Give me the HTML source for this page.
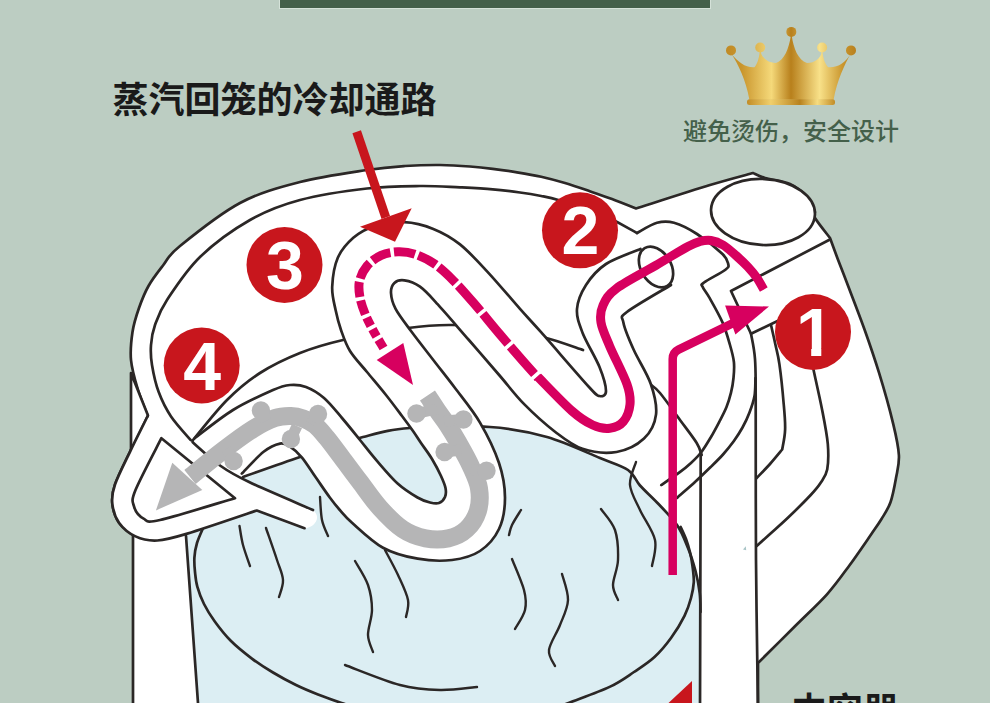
<!DOCTYPE html>
<html lang="zh-CN"><head><meta charset="utf-8"><title>蒸汽回笼的冷却通路</title>
<style>
html,body{margin:0;padding:0;background:#bccdc2;}
body{width:990px;height:703px;overflow:hidden;position:relative;font-family:"Liberation Sans","Noto Sans CJK SC",sans-serif;}
svg{position:absolute;left:0;top:0;display:block}
.bar{position:absolute;left:280px;top:0;width:430px;height:7.5px;background:#44604a;box-shadow:0 0 0 1px rgba(215,228,220,.9)}
.t1{position:absolute;left:112.500px;top:75px;font-size:36px;line-height:52px;font-weight:700;color:#1a1a1a;white-space:nowrap;letter-spacing:0}
.t2{position:absolute;left:683px;top:114px;font-size:24px;line-height:36px;font-weight:500;color:#44604a;white-space:nowrap}
.t3{position:absolute;left:791px;top:686px;font-size:36px;line-height:52px;font-weight:700;color:#1a1a1a;white-space:nowrap}
</style></head><body>
<svg width="990" height="703" viewBox="0 0 990 703">
<path d="M147.7 416C146.1 411.7 140.8 399.3 138 390C135.2 380.7 131.9 369.7 131 360C130.1 350.3 131.2 340.7 132.5 332C133.8 323.3 136.3 315.7 139 308C141.7 300.3 144.5 293.1 148.5 286C152.5 278.9 157.8 272.2 163 265.5C168.2 258.8 167.2 256.4 180 246C192.8 235.6 220 213.7 240 203C260 192.3 278.8 187.5 300 182C321.2 176.5 349.5 172.7 367 170C384.5 167.3 392.8 166.8 405 166C417.2 165.2 429.2 164.9 440 165C450.8 165.1 461.2 165.8 470 166.5C478.8 167.2 484.9 167.9 492.7 168.9C500.5 169.9 508.9 171 517 172.3C525.1 173.6 533.2 174.9 541.2 176.7C549.2 178.5 556.9 180.6 565 183C573.1 185.4 581.9 188.5 589.7 191.2C597.5 193.9 604.3 196.1 612 199C619.7 201.9 632 206.9 636 208.5L636 208.5C648.3 204.6 690.5 190.9 710 185C729.5 179.1 745.8 175 753 173L753 173C755 173.8 758.8 176.2 765 178C771.2 179.8 783 180.8 790 184C797 187.2 802.8 192.3 807 197C811.2 201.7 813.7 209.5 815 212L815 212C815 213 812.5 213.7 815 218C817.5 222.3 827.5 234.7 830 238L830 238C831.2 241.2 834.2 249.5 837 257C839.8 264.5 842.4 270.8 847 283C851.6 295.2 859.4 315.1 864.7 330C870 344.9 874.2 357.1 879 372.7C883.8 388.3 889.9 410.1 893.2 423.9C896.5 437.6 898.4 446.2 898.9 455.2C899.4 464.2 897.4 470.2 896 478C894.6 485.8 892.9 495.4 890.5 502.2C888.1 509 884.7 513.7 881.5 519C878.3 524.3 876.8 526.2 871.4 534C866 541.8 856.6 555.7 849.2 565.7C841.8 575.8 836 584.2 827 594.3C818 604.3 806.7 614.5 795.2 626C783.7 637.5 764.2 656.8 758 663L758 663L758 720L758 720L133 720L133 720L133 535L133 535C130.7 533 122.5 527.9 119 522.7C115.5 517.5 113 510 112.3 503.6C111.6 497.2 112 493.1 115 484.5C118 475.9 124.5 463.2 130 451.8C135.4 440.4 144.8 422 147.7 416Z" fill="#fff" stroke="#2b2726" stroke-width="2.7" stroke-linejoin="round" stroke-linecap="round"/>
<path d="M131 373L148 415.500L131 451Z" fill="#fff" stroke="#2b2726" stroke-width="2.7" stroke-linejoin="round" stroke-linecap="round"/>
<path d="M186 536L243 477L243 477C252.5 473.7 280 463.7 300 457C320 450.3 344.7 441.8 363 437C381.3 432.2 388.8 429.7 410 428C431.2 426.3 467.2 425.5 490 427C512.8 428.5 528.7 431.8 547 437C565.3 442.2 586.5 452.5 600 458C613.5 463.5 621.3 465.4 628 470C634.7 474.6 635.2 480.1 640 485.5C644.8 490.9 650.8 495.9 657 502.5C663.2 509.1 671.8 517.4 677 525C682.2 532.6 684.9 540.4 688 548C691.1 555.6 693.4 563.2 695.4 570.7C697.4 578.2 698.9 586.1 699.7 593C700.6 599.9 700.4 608.8 700.5 612L700.5 612L700.5 720L700 720L199 720L199 720L186 536Z" fill="#dceef3" />
<path d="M243 477C252.5 473.7 280 463.7 300 457C320 450.3 344.7 441.8 363 437C381.3 432.2 388.8 429.7 410 428C431.2 426.3 467.2 425.5 490 427C512.8 428.5 528.7 431.8 547 437C565.3 442.2 586.5 452.5 600 458C613.5 463.5 621.3 465.4 628 470C634.7 474.6 635.2 480.1 640 485.5C644.8 490.9 650.8 495.9 657 502.5C663.2 509.1 671.8 517.4 677 525C682.2 532.6 684.9 540.4 688 548C691.1 555.6 693.4 563.2 695.4 570.7C697.4 578.2 698.9 586.1 699.7 593C700.6 599.9 700.4 608.8 700.5 612" fill="none" stroke="#2b2726" stroke-width="2.7" stroke-linecap="round" stroke-linejoin="round"/>
<path d="M186 536L198.5 710" fill="none" stroke="#2b2726" stroke-width="2.7" stroke-linecap="round" stroke-linejoin="round"/>
<path d="M204 526C202.8 528.8 198.6 537.7 197 543C195.4 548.3 194.7 552.9 194.4 557.7C194.1 562.5 194.5 567.2 195 572C195.5 576.8 195.8 581.3 197.3 586.6C198.8 591.9 201.1 598.2 204 604C206.9 609.8 210.1 615 214.6 621.2C219.1 627.4 224.7 634.7 231 641C237.3 647.3 245.2 653.5 252.2 658.8C259.2 664 265.8 668.2 273 672.5C280.2 676.8 288 681.1 295.5 684.8C303 688.5 310.3 691.5 318 694.5C325.7 697.5 334.6 700.6 341.6 703C348.6 705.4 356.9 708 360 709" fill="none" stroke="#2b2726" stroke-width="2.7" stroke-linecap="round" stroke-linejoin="round"/>
<path d="M545 712C548.9 710.5 557.7 707.2 568.5 703C579.3 698.8 598.7 692.1 609.6 686.9C620.5 681.7 626.5 677 634 672C641.5 667 648.3 662.7 654.5 657C660.7 651.3 666 644.9 671 638C676 631.1 681.2 622.5 684.5 615.8C687.8 609.1 689.5 603.6 691 598C692.5 592.4 693.5 587.5 693.8 582.2C694 576.9 693.1 571 692.5 566C691.9 561 691.1 556.7 690 552.2C688.9 547.7 687.5 543.2 686 539C684.5 534.8 681.6 529 680.7 527" fill="none" stroke="#2b2726" stroke-width="2.7" stroke-linecap="round" stroke-linejoin="round"/>
<path d="M239.5 526C240.1 529.2 241.2 538.3 243 545C244.8 551.7 248.8 562.5 250 566" fill="none" stroke="#2b2726" stroke-width="2.4" stroke-linecap="round" stroke-linejoin="round"/>
<path d="M266 528C267.8 533.3 274.2 551.3 277 560C279.8 568.7 282.7 573.8 283 580C283.3 586.2 279.7 594.2 279 597" fill="none" stroke="#2b2726" stroke-width="2.4" stroke-linecap="round" stroke-linejoin="round"/>
<path d="M320 497C320.3 500.8 320.7 513.5 322 520C323.3 526.5 327 533.3 328 536" fill="none" stroke="#2b2726" stroke-width="2.4" stroke-linecap="round" stroke-linejoin="round"/>
<path d="M355 561C357.2 565 365.2 576.8 368 585C370.8 593.2 372 601.7 372 610C372 618.3 367.8 628 368 635C368.2 642 372.2 649.2 373 652" fill="none" stroke="#2b2726" stroke-width="2.4" stroke-linecap="round" stroke-linejoin="round"/>
<path d="M385 550C387.2 554.2 394.2 566.7 398 575C401.8 583.3 406.7 593 408 600C409.3 607 406.3 614.2 406 617" fill="none" stroke="#2b2726" stroke-width="2.4" stroke-linecap="round" stroke-linejoin="round"/>
<path d="M345 665C354.2 668.3 384.2 680.8 400 685C415.8 689.2 427.2 689.7 440 690C452.8 690.3 470.8 687.5 477 687" fill="none" stroke="#2b2726" stroke-width="2.4" stroke-linecap="round" stroke-linejoin="round"/>
<path d="M521 510C519.5 512.5 514 520.8 512 525C510 529.2 509.5 533.3 509 535" fill="none" stroke="#2b2726" stroke-width="2.4" stroke-linecap="round" stroke-linejoin="round"/>
<path d="M512 559C514 564.2 521.8 581.5 524 590C526.2 598.5 526.5 603.5 525 610C523.5 616.5 516.7 625.8 515 629" fill="none" stroke="#2b2726" stroke-width="2.4" stroke-linecap="round" stroke-linejoin="round"/>
<path d="M562 574C563 578.3 568.3 591.5 568 600C567.7 608.5 563.2 616.7 560 625C556.8 633.3 549.8 643.2 549 650C548.2 656.8 554 663.3 555 666" fill="none" stroke="#2b2726" stroke-width="2.4" stroke-linecap="round" stroke-linejoin="round"/>
<path d="M601 509C603.3 512.5 612.2 521.5 615 530C617.8 538.5 618.3 550.8 618 560C617.7 569.2 613 578.3 613 585C613 591.7 617.2 597.5 618 600" fill="none" stroke="#2b2726" stroke-width="2.4" stroke-linecap="round" stroke-linejoin="round"/>
<path d="M636 462C635 465.8 629.3 477 630 485C630.7 493 635.8 500.8 640 510C644.2 519.2 653 530.7 655 540C657 549.3 652.5 561.7 652 566" fill="none" stroke="#2b2726" stroke-width="2.4" stroke-linecap="round" stroke-linejoin="round"/>
<path d="M692 681L692 710L661 710Z" fill="#c8161d" />
<path d="M192.7 442.3C189.1 438 176.7 424.8 171 416.4C165.3 408 161.8 400.4 158.6 391.8C155.4 383.2 153.3 372.8 152 365C150.7 357.2 150.5 351.7 151 345C151.5 338.3 152.3 332.5 155 325C157.7 317.5 159.5 311.3 167 300C174.5 288.7 186.2 270.3 200 257C213.8 243.7 233.3 229.5 250 220C266.7 210.5 280.5 205.2 300 200C319.5 194.8 347 190.8 367 188.5C387 186.2 404.5 186.2 420 186C435.5 185.8 447.9 186.8 460 187.3C472.1 187.9 482.7 188.4 492.7 189.3C502.7 190.2 511.9 191.4 520 192.5C528.1 193.6 534.5 194.7 541.2 196C547.9 197.3 550.2 197.6 560 200.5C569.8 203.4 587.2 208.1 600 213.5C612.8 218.9 630.8 229.8 637 233" fill="none" stroke="#2b2726" stroke-width="2.7" stroke-linecap="round" stroke-linejoin="round"/>
<path d="M193 440C198.7 433.3 215.8 411.2 227 400C238.2 388.8 247.8 380.8 260 373C272.2 365.2 286.2 358.5 300 353C313.8 347.5 325 344.2 343 340C361 335.8 389.8 330.5 408 328C426.2 325.5 436.7 324.8 452 325C467.3 325.2 484.8 327 500 329C515.2 331 529.2 333.5 543 337C556.8 340.5 576.3 347.8 583 350" fill="none" stroke="#2b2726" stroke-width="2.7" stroke-linecap="round" stroke-linejoin="round"/>
<path d="M829 240L731 291L731 291L751 333.7L751 333.7L790 315" fill="none" stroke="#2b2726" stroke-width="2.7" stroke-linecap="round" stroke-linejoin="round"/>
<path d="M637 233C640.3 231.3 650.8 224.5 657 222.8C663.2 221.1 667.3 220.9 674 222.8C680.7 224.7 688.9 228.8 697 234C705.1 239.2 717.3 249 722.5 254C727.7 259 727.7 261.4 728.2 264C728.7 266.6 729.4 266.6 725.4 269.7C721.4 272.8 707.8 279.6 704 282.5C700.2 285.4 701.6 284.2 702.6 286.8C703.6 289.4 706.4 292.3 709.7 298.2C713 304.1 719.1 314.6 722.5 322.4C725.9 330.2 728.1 338.4 730 345C731.9 351.6 733.3 356.5 733.9 362C734.5 367.5 734 372.9 733.5 378C733 383.1 732.2 387.8 731 392.6C729.8 397.4 728.4 402.3 726.5 407C724.6 411.7 722.3 416 719.7 421C717.1 426 714.1 431.8 711 437C707.9 442.2 704.5 448 701.2 452.3C697.9 456.6 694.6 459.7 691 463C687.4 466.3 684.8 468.5 679.8 472.2C674.8 475.9 664.4 482.9 661.3 485" fill="none" stroke="#2b2726" stroke-width="2.7" stroke-linecap="round" stroke-linejoin="round"/>
<path d="M755.5 378C755.3 381 755.5 390.2 754.5 396C753.5 401.8 751.5 407.2 749.5 412.5C747.5 417.8 745.1 422.8 742.5 427.5C739.9 432.2 737.1 436.5 733.9 441C730.6 445.5 726.8 450.2 723 454.5C719.2 458.8 715.8 462 711.1 466.6C706.4 471.2 700.7 476.8 695 482C689.3 487.2 680 495.2 677 497.9" fill="none" stroke="#2b2726" stroke-width="2.7" stroke-linecap="round" stroke-linejoin="round"/>
<path d="M700.7 453L700 710" fill="none" stroke="#2b2726" stroke-width="2.7" stroke-linecap="round" stroke-linejoin="round"/>
<path d="M751 333.7C751.7 337.9 754.2 347.9 755 359C755.8 370.1 755.5 366.5 755.7 400C755.9 433.5 755.6 508.3 756 560C756.4 611.7 757.7 685 758 710" fill="none" stroke="#2b2726" stroke-width="2.7" stroke-linecap="round" stroke-linejoin="round"/>
<path d="M771 325C771.8 328.3 774.1 338.5 775.5 345C776.9 351.5 778 354.3 779.4 364.1C780.8 373.9 782.8 393.1 783.7 404C784.7 414.9 785.4 422 785.1 429.6C784.9 437.2 782.7 446.2 782.2 449.5L782.2 449.5C780.2 451.9 774.3 459.2 770 464C765.7 468.8 758.8 475.7 756.6 478" fill="none" stroke="#2b2726" stroke-width="2.7" stroke-linecap="round" stroke-linejoin="round"/>
<path d="M813.5 369.8C814.9 376.4 819.7 397.4 822.1 409.7C824.5 422 826.9 433.9 827.8 443.8C828.6 453.8 828.4 462.9 827.2 469.4C826 475.9 823.2 478.7 820.5 483C817.8 487.3 816.1 489.2 810.7 495C805.3 500.8 794.7 511.3 787.9 517.8C781.1 524.3 775.2 529.3 770 534C764.8 538.7 758.9 544 756.7 546" fill="none" stroke="#2b2726" stroke-width="2.7" stroke-linecap="round" stroke-linejoin="round"/>
<path d="M650 384C651.7 385.5 655 387 660 393C665 399 673.9 411.7 680 420C686.1 428.3 693.1 437.2 696.7 443C700.3 448.8 700.9 453 701.7 455" fill="none" stroke="#2b2726" stroke-width="2.7" stroke-linecap="round" stroke-linejoin="round"/>
<path d="M743 549.500L745.800 546.2L746.2 550.300Z" fill="#a8c4c6" />
<ellipse cx="763" cy="212" rx="52" ry="33" fill="#fff" stroke="#2b2726" stroke-width="2.7" transform="rotate(3 763 212)"/>
<path d="M147.7 416C150 419.7 153.9 433.8 161.4 438.2C168.9 442.6 178.2 435 192.7 442.3C207.2 449.6 228.5 470.5 248.6 481.8C268.6 493.1 303.7 502.3 313 510C322.3 517.7 313.9 528.1 304.5 528.2C295.1 528.3 264.8 513.5 256.8 510.5L187.3 533.6C182.3 534.8 165.9 540 157.3 540.5C148.7 541 141.9 539.4 135.5 536.4C129.1 533.4 122.9 528.2 119 522.7C115.1 517.2 113 510 112.3 503.6C111.6 497.2 112 493.1 115 484.5C118 475.9 124.5 463.2 130 451.8C135.4 440.4 144.8 422 147.7 416Z" fill="#fff" />
<path d="M192.7 442.3C197.2 446.2 210.7 458.9 220 465.5C229.3 472.1 233.1 474.4 248.6 481.8C264.1 489.2 302.3 505.3 313 510" fill="none" stroke="#2b2726" stroke-width="2.7" stroke-linecap="round" stroke-linejoin="round"/>
<path d="M304.5 528.2L256.8 510.5L256.8 510.5C245.2 514.4 203.9 528.6 187.3 533.6C170.7 538.6 165.9 540 157.3 540.5C148.7 541 141.9 539.4 135.5 536.4C129.1 533.4 122.9 528.2 119 522.7C115.1 517.2 113 510 112.3 503.6C111.6 497.2 112 493.1 115 484.5C118 475.9 124.5 463.2 130 451.8C135.4 440.4 144.8 422 147.7 416" fill="none" stroke="#2b2726" stroke-width="2.7" stroke-linecap="round" stroke-linejoin="round"/>
<path d="M161.4 438.2L235 498.2L235 498.2C222.5 501.8 175.2 516.6 160 520C144.8 523.4 147.9 520.9 143.6 518.6C139.3 516.3 135.3 511.2 134 506.4C132.7 501.6 130.9 501.4 135.5 490C140.1 478.6 157.1 446.8 161.4 438.2Z" fill="#fff" stroke="#2b2726" stroke-width="2.7" stroke-linejoin="round" stroke-linecap="round"/>
<path d="M195 438C201.3 433.3 220 418 233 410C246 402 263.5 394.2 273 390C282.5 385.8 284.5 385.5 290 385C295.5 384.5 300.3 384.8 306 387C311.7 389.2 318 392.8 324 398C330 403.2 336 411 342 418C348 425 354.1 432.7 360 440C365.9 447.3 371.3 454.4 377.6 461.6C383.9 468.9 391 477.5 397.6 483.5C404.2 489.5 412.1 494.3 417.5 497.5C422.9 500.7 426.4 501.6 430 502.5C433.6 503.4 436.5 503.9 439 503C441.5 502.1 443.9 499.5 445 497C446.1 494.5 446.2 491.5 445.5 488C444.8 484.5 443.2 480.8 441 476C438.8 471.2 435.3 464.5 432 459C428.7 453.5 424.2 447.7 421 443C417.8 438.3 416.2 435.5 413 431C409.8 426.5 406.5 422 402 416C397.5 410 391.8 402.3 386 395C380.2 387.7 373 379.3 367 372C361 364.7 354.3 358 350 351C345.7 344 343.4 336.8 341 330C338.6 323.2 337.1 317.2 335.6 310C334.1 302.8 331.8 295.4 332.2 286.7C332.6 278 334.3 265.9 337.8 257.8C341.3 249.7 347.4 243 353.3 237.8C359.2 232.6 364.8 229.3 373.3 226.7C381.8 224.1 394.4 221.8 404.4 222.2C414.4 222.6 424 225.2 433.3 228.9C442.6 232.6 450.7 237 460 244.4C469.3 251.8 478.9 262.6 488.9 273.3C498.9 284.1 511.2 299 520 308.9C528.8 318.8 530 319.7 541.5 332.7C553 345.7 579.3 376.4 589 387C598.7 397.6 596.7 395.3 599.5 396C602.3 396.7 606 395.8 606 391C606 386.2 603.4 376.7 599.5 367C595.6 357.3 586.2 342.4 582.5 332.7C578.8 323 576.4 316.9 577 309C577.6 301.1 581.2 292.5 586 285C590.8 277.5 596.9 270 606 264C615.1 258 634.8 251.5 640.5 249L671 285C663.6 289.5 634.8 305.8 626.9 312C619 318.2 622.3 316.2 623.4 322.5C624.5 328.8 629.1 339.6 633.7 349.8C638.3 360.1 647.1 373.2 650.8 384C654.5 394.8 657.1 405.6 656 414.7C654.9 423.8 650.6 432.4 644 438.6C637.4 444.8 626.9 450.3 616.6 452C606.4 453.7 592.8 452.2 582.5 448.8C572.2 445.4 564.7 439.1 555 431.7C545.3 424.3 533.6 413.7 524.4 404.4C515.2 395.1 509.2 386.7 500 376C490.8 365.3 479.3 351.9 468.9 340C458.5 328.1 445.9 313.3 437.8 304.4C429.7 295.5 425.6 290.7 420 286.7C414.4 282.7 408.7 281 404.4 280.4C400.1 279.8 396.6 280.9 394.4 283C392.2 285.1 390.8 288.7 391 293C391.2 297.3 392.3 302.6 395.6 308.9C398.9 315.2 404.7 322.5 411 331C417.3 339.5 426 350.5 433.3 360C440.6 369.5 447.2 377.6 455 388C462.8 398.4 472.7 410.1 480 422.6C487.3 435.1 494.8 450.5 499 463C503.2 475.5 505 486.7 505 497.7C505 508.7 503.2 520.1 499 529C494.8 537.9 487.8 545.8 480 551C472.2 556.2 462.4 558.7 452 560C441.6 561.3 429.2 560.8 417.7 558.7C406.2 556.7 393.9 553.7 383 547.7C372.1 541.7 359.2 529 352 522.7C344.8 516.4 343.5 514.2 339.8 510C336.1 505.8 333.8 502.9 329.8 497.5C325.8 492.1 320.5 484.2 315.9 477.6C311.3 471 306.3 462.8 302 457.6C297.7 452.5 293.7 449 290 446.7C286.3 444.4 284.4 442.8 280 443.6C275.6 444.5 270 446.8 263.6 451.8C257.2 456.8 245.4 470 241.8 473.6Z" fill="#fff" />
<path d="M195 438C201.3 433.3 220 418 233 410C246 402 263.5 394.2 273 390C282.5 385.8 284.5 385.5 290 385C295.5 384.5 300.3 384.8 306 387C311.7 389.2 318 392.8 324 398C330 403.2 336 411 342 418C348 425 354.1 432.7 360 440C365.9 447.3 371.3 454.4 377.6 461.6C383.9 468.9 391 477.5 397.6 483.5C404.2 489.5 412.1 494.3 417.5 497.5C422.9 500.7 426.4 501.6 430 502.5C433.6 503.4 436.5 503.9 439 503C441.5 502.1 443.9 499.5 445 497C446.1 494.5 446.2 491.5 445.5 488C444.8 484.5 443.2 480.8 441 476C438.8 471.2 435.3 464.5 432 459C428.7 453.5 424.2 447.7 421 443C417.8 438.3 416.2 435.5 413 431C409.8 426.5 406.5 422 402 416C397.5 410 391.8 402.3 386 395C380.2 387.7 373 379.3 367 372C361 364.7 354.3 358 350 351C345.7 344 343.4 336.8 341 330C338.6 323.2 337.1 317.2 335.6 310C334.1 302.8 331.8 295.4 332.2 286.7C332.6 278 334.3 265.9 337.8 257.8C341.3 249.7 347.4 243 353.3 237.8C359.2 232.6 364.8 229.3 373.3 226.7C381.8 224.1 394.4 221.8 404.4 222.2C414.4 222.6 424 225.2 433.3 228.9C442.6 232.6 450.7 237 460 244.4C469.3 251.8 478.9 262.6 488.9 273.3C498.9 284.1 511.2 299 520 308.9C528.8 318.8 530 319.7 541.5 332.7C553 345.7 579.3 376.4 589 387C598.7 397.6 596.7 395.3 599.5 396C602.3 396.7 606 395.8 606 391C606 386.2 603.4 376.7 599.5 367C595.6 357.3 586.2 342.4 582.5 332.7C578.8 323 576.4 316.9 577 309C577.6 301.1 581.2 292.5 586 285C590.8 277.5 596.9 270 606 264C615.1 258 634.8 251.5 640.5 249" fill="none" stroke="#2b2726" stroke-width="2.7" stroke-linecap="round" stroke-linejoin="round"/>
<path d="M671 285C663.6 289.5 634.8 305.8 626.9 312C619 318.2 622.3 316.2 623.4 322.5C624.5 328.8 629.1 339.6 633.7 349.8C638.3 360.1 647.1 373.2 650.8 384C654.5 394.8 657.1 405.6 656 414.7C654.9 423.8 650.6 432.4 644 438.6C637.4 444.8 626.9 450.3 616.6 452C606.4 453.7 592.8 452.2 582.5 448.8C572.2 445.4 564.7 439.1 555 431.7C545.3 424.3 533.6 413.7 524.4 404.4C515.2 395.1 509.2 386.7 500 376C490.8 365.3 479.3 351.9 468.9 340C458.5 328.1 445.9 313.3 437.8 304.4C429.7 295.5 425.6 290.7 420 286.7C414.4 282.7 408.7 281 404.4 280.4C400.1 279.8 396.6 280.9 394.4 283C392.2 285.1 390.8 288.7 391 293C391.2 297.3 392.3 302.6 395.6 308.9C398.9 315.2 404.7 322.5 411 331C417.3 339.5 426 350.5 433.3 360C440.6 369.5 447.2 377.6 455 388C462.8 398.4 472.7 410.1 480 422.6C487.3 435.1 494.8 450.5 499 463C503.2 475.5 505 486.7 505 497.7C505 508.7 503.2 520.1 499 529C494.8 537.9 487.8 545.8 480 551C472.2 556.2 462.4 558.7 452 560C441.6 561.3 429.2 560.8 417.7 558.7C406.2 556.7 393.9 553.7 383 547.7C372.1 541.7 359.2 529 352 522.7C344.8 516.4 343.5 514.2 339.8 510C336.1 505.8 333.8 502.9 329.8 497.5C325.8 492.1 320.5 484.2 315.9 477.6C311.3 471 306.3 462.8 302 457.6C297.7 452.5 293.7 449 290 446.7C286.3 444.4 284.4 442.8 280 443.6C275.6 444.5 270 446.8 263.6 451.8C257.2 456.8 245.4 470 241.8 473.6" fill="none" stroke="#2b2726" stroke-width="2.7" stroke-linecap="round" stroke-linejoin="round"/>
<ellipse cx="656" cy="267" rx="15" ry="22" fill="#fff" stroke="#2b2726" stroke-width="2.7" transform="rotate(-31 656 267)"/>
<path d="M427.5 395.5C429.1 397.9 433.8 405.2 437 410C440.2 414.8 443.4 418.5 447 424C450.6 429.5 454.6 436.1 458.5 443C462.4 449.9 467.1 457.9 470.5 465.5C473.9 473.1 477.8 480.7 479 488.3C480.2 495.9 480 504.2 477.9 511C475.8 517.8 471.4 524.7 466.5 529.3C461.6 533.9 455.1 536.9 448.3 538.4C441.5 539.9 433.1 539.9 425.5 538.4C417.9 536.9 410.4 534.4 402.8 529.3C395.2 524.2 387.2 516 380 508C372.8 500 366.1 489.9 359.7 481.5C353.3 473.1 347.3 464.9 341.8 457.6C336.3 450.3 331 442.9 326.5 437.5C322 432.1 318.9 428.2 315 425C311.1 421.8 307 420 303 418.5C299 417 295.7 416.1 291 416C286.3 415.9 281.3 415.8 275 418C268.7 420.2 261.7 423.6 253 429C244.3 434.4 233.5 442.5 223 450.5C212.5 458.5 195.5 472.6 190 477" fill="none" stroke="#b5b5b6" stroke-width="18" stroke-linejoin="round"/>
<path d="M155.9 510.4L172.3 462.7L202.3 490Z" fill="#b5b5b6" />
<path d="M260.9 410.5L266 421" stroke="#b5b5b6" stroke-width="11" fill="none"/>
<circle cx="260.9" cy="410.5" r="9.2" fill="#b5b5b6"/>
<path d="M318 414L311 424" stroke="#b5b5b6" stroke-width="11" fill="none"/>
<circle cx="318" cy="414" r="9.2" fill="#b5b5b6"/>
<path d="M290.9 439L297 426" stroke="#b5b5b6" stroke-width="11" fill="none"/>
<circle cx="290.9" cy="439" r="9.2" fill="#b5b5b6"/>
<path d="M233.6 461L227 448.5" stroke="#b5b5b6" stroke-width="11" fill="none"/>
<circle cx="233.6" cy="461" r="9.2" fill="#b5b5b6"/>
<path d="M416.5 413.5L437 409" stroke="#b5b5b6" stroke-width="11" fill="none"/>
<circle cx="416.5" cy="413.5" r="9.2" fill="#b5b5b6"/>
<path d="M463.4 419.5L444 421" stroke="#b5b5b6" stroke-width="11" fill="none"/>
<circle cx="463.4" cy="419.5" r="9.2" fill="#b5b5b6"/>
<path d="M444.6 452L461 450" stroke="#b5b5b6" stroke-width="11" fill="none"/>
<circle cx="444.6" cy="452" r="9.2" fill="#b5b5b6"/>
<path d="M486.5 470.7L471 470" stroke="#b5b5b6" stroke-width="11" fill="none"/>
<circle cx="486.5" cy="470.7" r="9.2" fill="#b5b5b6"/>
<path d="M383.5 348C381.9 345.2 376.8 337.1 373.8 331.5C370.8 325.9 367.7 320.2 365.4 314.6C363.1 309 361 303.3 360 297.7C359 292.1 358.3 286.3 359.5 281C360.7 275.7 363.4 270.3 367 266C370.6 261.7 375.9 257.8 381.1 255.4C386.3 253 392.4 252 398 251.8C403.6 251.6 408.9 252.2 415 254.2C421.1 256.2 427.9 259.4 434.3 263.8C440.7 268.2 446.8 273.9 453.6 280.8C460.5 287.7 467.7 296.1 475.4 305C483.1 313.9 491.5 324.5 499.6 334C507.7 343.5 517.4 354.7 523.8 362C530.2 369.3 535.6 375.3 538 378" fill="none" stroke="#d7005f" stroke-width="9" stroke-dasharray="9.7 3.6 8.6 3.6 9.2 3.6 14.5 3.6 15.2 3.6 18.4 3.6 19.7 3.6 21.3 3.6 20 3.6 23.4 3.6 34 3.6 38.8 3.6 36.5 3.6 400"/>
<path d="M376.7 360L403.3 343L413 385Z" fill="#d7005f" />
<path d="M538 377C543.7 382.7 562.9 403 572 411C581.1 419 586.4 422.1 592.7 425C599 427.9 604.7 428.9 609.8 428.3C614.9 427.7 620 425.5 623.4 421.5C626.8 417.5 629.4 410.6 630 404.4C630.6 398.1 630.3 393.7 626.9 384C623.5 374.3 614.1 356.6 609.8 346.4C605.5 336.1 602.1 329.3 601 322.5C599.9 315.7 600.4 311.1 603 305.4C605.6 299.7 607.5 295.1 616.6 288.3C625.7 281.5 645.7 271.4 657.6 264.4C669.5 257.4 680.9 250.3 688 246.5C695.1 242.7 696.2 242.5 700 241.5C703.8 240.5 707.2 239.9 711 240.5C714.8 241.1 718.8 242.5 723 245C727.2 247.5 731.8 251.8 736 255.5C740.2 259.2 744.5 263.2 748 267C751.5 270.8 754.4 274.2 757 278C759.6 281.8 762.7 287.7 763.8 289.6" fill="none" stroke="#d7005f" stroke-width="9" stroke-linecap="butt" stroke-linejoin="round"/>
<path d="M672.7 575L672.7 359Q672.7 352.5 678.500 349.6L734 322.6" fill="none" stroke="#d7005f" stroke-width="8.5" stroke-linejoin="round"/>
<path d="M725.1 305.5L769 306.5L735.4 334.6Z" fill="#d7005f" />
<path d="M356.7 131.7L385.8 217.5" stroke="#c8161d" stroke-width="9" fill="none"/>
<path d="M360 226.7L411.7 208.3L395 241.7Z" fill="#c8161d" />
<clipPath id="c1"><path d="M770 290H860V348.500H821.3V360H811.2V348.500H770Z"/></clipPath>
<circle cx="813" cy="332" r="38" fill="#c8161d"/>
<text x="815" y="356" font-family="Liberation Sans, sans-serif" font-weight="700" font-size="68" fill="#fff" text-anchor="middle" clip-path="url(#c1)">1</text>
<circle cx="580" cy="230.3" r="38" fill="#c8161d"/>
<text x="580.5" y="254.3" font-family="Liberation Sans, sans-serif" font-weight="700" font-size="68" fill="#fff" text-anchor="middle">2</text>
<circle cx="284.5" cy="265" r="38" fill="#c8161d"/>
<text x="285.0" y="289" font-family="Liberation Sans, sans-serif" font-weight="700" font-size="68" fill="#fff" text-anchor="middle">3</text>
<circle cx="201.7" cy="365.5" r="38" fill="#c8161d"/>
<text x="202.2" y="389.5" font-family="Liberation Sans, sans-serif" font-weight="700" font-size="68" fill="#fff" text-anchor="middle">4</text>
<defs><linearGradient id="gold" gradientUnits="userSpaceOnUse" x1="726" y1="0" x2="856" y2="0">
<stop offset="0" stop-color="#c08a25"/><stop offset="0.12" stop-color="#c9952c"/><stop offset="0.35" stop-color="#f5d97a"/><stop offset="0.5" stop-color="#b8801c"/><stop offset="0.72" stop-color="#f8e189"/><stop offset="0.9" stop-color="#c9952c"/><stop offset="1" stop-color="#b8801f"/></linearGradient><linearGradient id="gold2" gradientUnits="userSpaceOnUse" x1="747" y1="0" x2="835" y2="0"><stop offset="0" stop-color="#c28c26"/><stop offset="0.27" stop-color="#f0cf6c"/><stop offset="0.6" stop-color="#b8811d"/><stop offset="0.8" stop-color="#f6dc80"/><stop offset="1" stop-color="#c28c26"/></linearGradient></defs>
<path d="M731.5 54 C738 64 746 80 749.4 99.8 L833.6 99.8 C837 80 845 64 850.5 54 C846 62 838 68 828.3 67.3 C825 64 823 58 822.6 52 L821.6 52 C821 58 815 63 807 63 C798 60 793.5 48 791.8 36 L790.8 36 C789 48 784.5 60 776 63 C768 63 762 58 760.8 52 L759.7 52 C759 58 757.5 64 754.4 67.3 C746 68 738 62 731.5 54 Z" fill="url(#gold)" />
<rect x="747" y="99.300" width="88" height="5.8" rx="2.5" fill="url(#gold2)"/>
<circle cx="731" cy="50.4" r="5" fill="url(#gold)"/>
<circle cx="760.2" cy="47.5" r="5" fill="url(#gold)"/>
<circle cx="791.3" cy="31.9" r="5" fill="url(#gold)"/>
<circle cx="822.1" cy="47.5" r="5" fill="url(#gold)"/>
<circle cx="851" cy="50.4" r="5" fill="url(#gold)"/>
</svg>
<div class="bar"></div>
<div class="t1">蒸汽回笼的冷却通路</div>
<div class="t2">避免烫伤，安全设计</div>
<div class="t3">内容器</div>
</body></html>
